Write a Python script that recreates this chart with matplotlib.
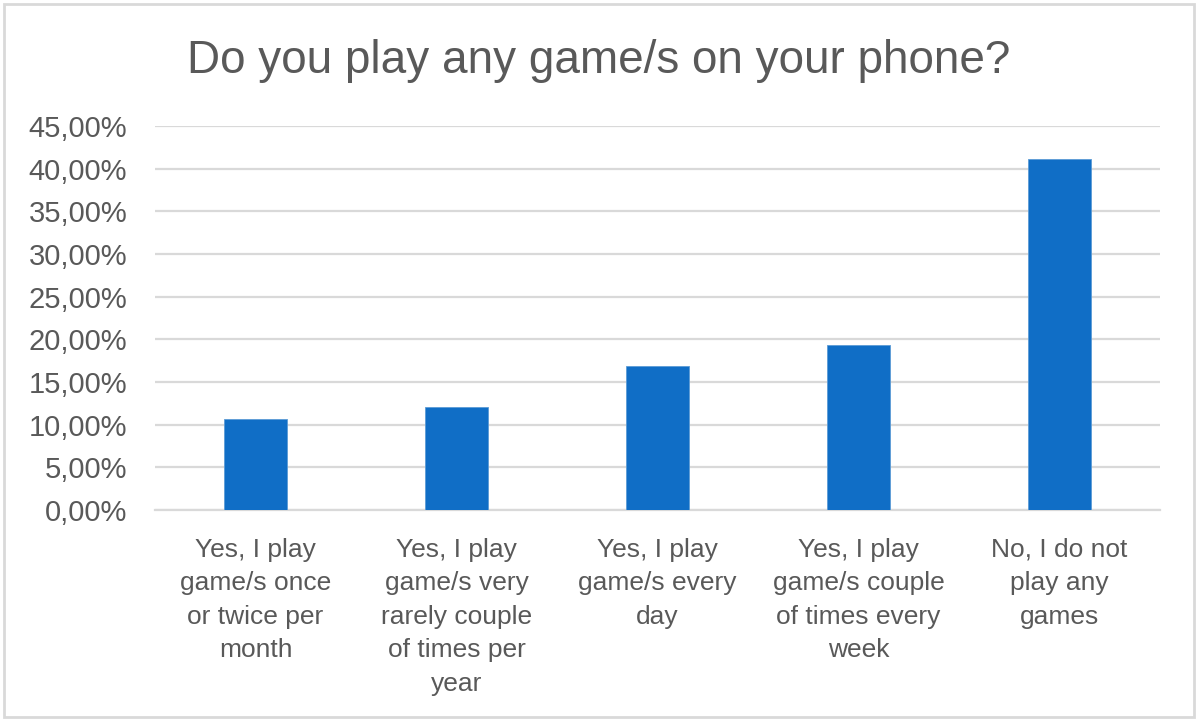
import matplotlib.pyplot as plt
import matplotlib.patches as mpatches
from matplotlib.ticker import FuncFormatter, MultipleLocator

plt.rcParams['font.family'] = ['Liberation Sans', 'DejaVu Sans']

title = 'Do you play any game/s on your phone?'
categories = [
    'Yes, I play\ngame/s once\nor twice per\nmonth',
    'Yes, I play\ngame/s very\nrarely couple\nof times per\nyear',
    'Yes, I play\ngame/s every\nday',
    'Yes, I play\ngame/s couple\nof times every\nweek',
    'No, I do not\nplay any\ngames',
]
shares = [10.7, 12.05, 16.9, 19.3, 41.1]  # percent of respondents

text_color = '#595959'
grid_color = '#d9d9d9'
bar_color = '#106ec6'

W, H = 1198, 720
fig = plt.figure(figsize=(W / 100, H / 100), dpi=100)
ax = fig.add_axes([155 / W, 1 - 510 / H, (1160 - 155) / W, (510 - 126) / H])

x = range(len(categories))
ax.bar(x, shares, width=0.315, color=bar_color, edgecolor='#5b9bd5', linewidth=0.6, zorder=3)

ax.set_ylim(0, 45)
ax.set_xlim(-0.5, len(categories) - 0.5)
ax.yaxis.set_major_locator(MultipleLocator(5))
ax.yaxis.set_major_formatter(FuncFormatter(lambda v, _: f'{v:.2f}'.replace('.', ',') + '%'))
ax.grid(axis='y', color=grid_color, linewidth=1.6, zorder=0)
ax.set_axisbelow(True)

ax.set_xticks(list(x))
ax.set_xticklabels(categories, linespacing=1.5, va='top', ha='center')
ax.tick_params(axis='x', length=0, pad=20, labelsize=19, colors=text_color)
ax.tick_params(axis='y', length=0, pad=20, labelsize=21, colors=text_color)

for side in ['top', 'right', 'left']:
    ax.spines[side].set_visible(False)
ax.spines['bottom'].set_color(grid_color)
ax.spines['bottom'].set_linewidth(1.6)

fig.text(0.5, 1 - 61 / H, title, ha='center', va='center', fontsize=33, color=text_color)

# light frame round the whole chart
fig.patches.append(mpatches.Rectangle((4 / W, 3 / H), 1 - 8 / W, 1 - 7 / H,
                                      transform=fig.transFigure, fill=False,
                                      edgecolor=grid_color, linewidth=2))

fig.savefig('out.png', dpi=100, facecolor='white')
